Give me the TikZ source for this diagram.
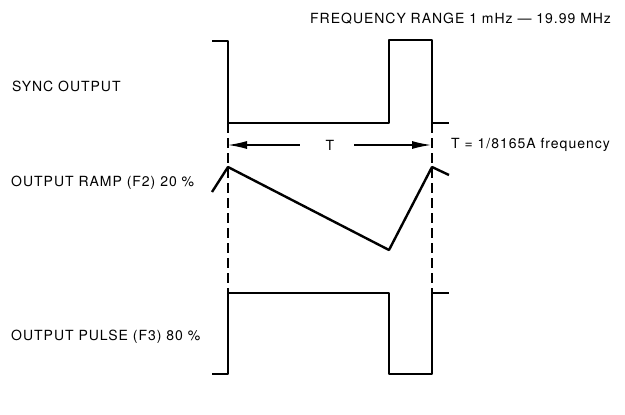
\documentclass[tikz,border=0pt]{standalone}
\usepackage{fontspec}
\setmainfont[LetterSpace=7]{TeX Gyre Heros}
\usetikzlibrary{calc, positioning, arrows.meta}

\begin{document}
\begin{tikzpicture}[>={Latex[length=19pt,width=8pt]}, x=1pt, y=-1pt,
    wave/.style={line width=2.4pt, line join=round},
    guide/.style={line width=1.2pt, dash pattern=on 10pt off 5pt},
    lbl/.style={anchor=west, inner sep=0pt, font=\fontsize{14}{16}\selectfont}]
  \useasboundingbox (0,0) rectangle (625,415);
  % labels
  \node [lbl] (range) at (310,19) {FREQUENCY RANGE 1 mHz --- 19.99 MHz};
  \node [lbl] (sync) at (12,86) {SYNC OUTPUT};
  \node [lbl] (ramp) at (11,183) {OUTPUT RAMP (F2) 20 \%};
  \node [lbl] (pulse) at (11,337) {OUTPUT PULSE (F3) 80 \%};
  % period marker
  \coordinate (tl) at (228,145);
  \coordinate (tr) at (431,145);
  \node [inner sep=0pt, font=\fontsize{14}{16}\selectfont] (T) at (330,145) {T};
  \node [lbl] (Tdef) at (451,145) {T = 1/8165A frequency};
  \draw [line width=1.3pt, ->] ($(T.west)+(-26,0)$) -- (tl);
  \draw [line width=1.3pt, ->] ($(T.east)+(20,0)$) -- (tr);
  % guide lines
  \draw [guide] (228,123) -- (228,293);
  \draw [guide] (432,123) -- (432,293);
  % sync output
  \draw [wave] (212,41) -- (228,41) -- (228,123) -- (389,123) -- (389,40)
    -- (432,40) -- (432,123) -- (449,123);
  % output ramp
  \draw [wave] (212,192) -- (228,167) -- (389,250) -- (432,167) -- (449,175);
  % output pulse
  \draw [wave] (212,374) -- (228,374) -- (228,293) -- (389,293) -- (389,374)
    -- (432,374) -- (432,293) -- (449,293);
\end{tikzpicture}
\end{document}
